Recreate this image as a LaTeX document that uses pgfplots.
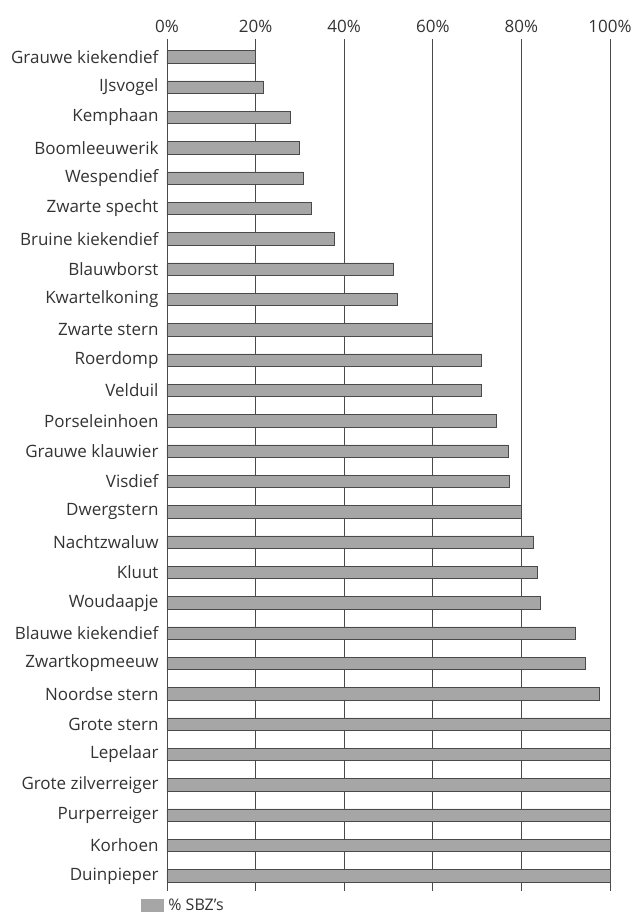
\documentclass[border=0pt]{standalone}
\usepackage{fontspec}
\setmainfont{Open Sans}
\usepackage{pgfplots}
\pgfplotsset{compat=1.18}
\definecolor{barfill}{HTML}{A6A6A6}
\definecolor{barline}{HTML}{4A4A4A}
\definecolor{txt}{HTML}{333333}

\pgfplotstableread[col sep=comma]{
idx,value
0,20.0
1,21.7
2,27.8
3,29.8
4,30.9
5,32.7
6,37.7
7,51.2
8,52.1
9,60.0
10,70.9
11,70.9
12,74.3
13,77.0
14,77.2
15,80.0
16,82.8
17,83.5
18,84.2
19,92.3
20,94.4
21,97.5
22,100
23,100
24,100
25,100
26,100
27,100
}\sbz

\begin{document}
\begin{tikzpicture}
\useasboundingbox (-167bp,-29bp) rectangle (476bp,891bp);
\begin{axis}[
    scale only axis,
    width=443bp, height=852bp,
    xbar, bar width=12.5bp,
    xmin=0, xmax=100,
    ymin=-0.59, ymax=27.5,
    y dir=reverse,
    axis line style={draw=none},
    xtick={0,20,40,60,80,100},
    xticklabels={0\%,20\%,40\%,60\%,80\%,100\%},
    xticklabel pos=top,
    xmajorgrids,
    grid style={barline, line width=0.8pt},
    major tick length=0pt,
    ytick={0,...,27},
    yticklabels={Grauwe kiekendief, IJsvogel, Kemphaan, Boomleeuwerik, Wespendief,
      Zwarte specht, Bruine kiekendief, Blauwborst, Kwartelkoning, Zwarte stern,
      Roerdomp, Velduil, Porseleinhoen, Grauwe klauwier, Visdief, Dwergstern,
      Nachtzwaluw, Kluut, Woudaapje, Blauwe kiekendief, Zwartkopmeeuw,
      Noordse stern, Grote stern, Lepelaar, Grote zilverreiger, Purperreiger,
      Korhoen, Duinpieper},
    tick label style={font=\fontsize{17bp}{19bp}\selectfont, text=txt},
    yticklabel style={xshift=-5bp},
    xticklabel style={yshift=3bp},
    legend style={at={(axis description cs:-0.066,-0.004)}, anchor=north west,
      draw=none, fill=none, font=\fontsize{16bp}{18bp}\selectfont\color{txt},
      /tikz/every even column/.append style={column sep=2bp}},
    legend image code/.code={\fill[barfill] (0bp,-6bp) rectangle (22bp,6bp);},
]
\addplot[fill=barfill, draw=barline, line width=0.8pt] table[x=value, y=idx] {\sbz};
\addlegendentry{\,\% SBZ’s}
\end{axis}
\end{tikzpicture}
\end{document}
